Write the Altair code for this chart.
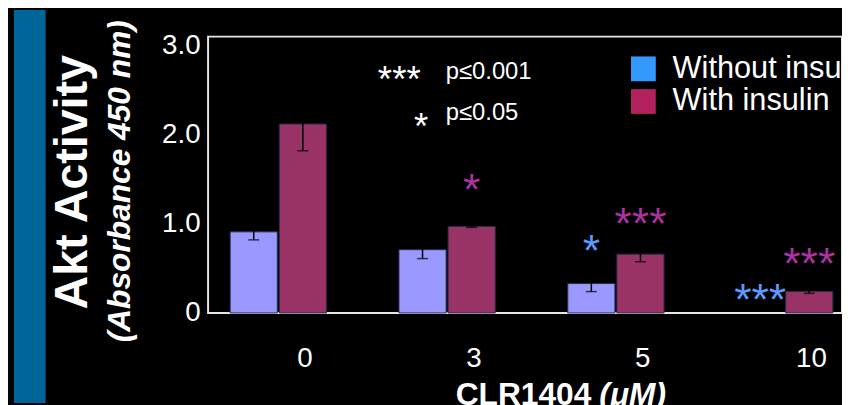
import altair as alt
import pandas as pd

# ---- data ----
doses = ["0", "3", "5", "10"]
series = ["Without insulin", "With insulin"]
without_vals = [0.91, 0.71, 0.33, 0.0]
without_err = [0.09, 0.10, 0.09, 0.0]
with_vals = [2.12, 0.97, 0.66, 0.24]
with_err = [0.30, 0.01, 0.085, 0.02]

bar_colors = ["#9999FF", "#993366"]
legend_colors = ["#3399FF", "#B3215E"]
star_colors = {"Without insulin": "#5A9BFF", "With insulin": "#A9339F"}

star_dose = ["3", "5", "5", "10", "10"]
star_series = ["With insulin", "With insulin", "Without insulin", "With insulin", "Without insulin"]
star_text = ["*", "***", "*", "***", "***"]
star_y = [1.46, 1.07, 0.77, 0.62, 0.22]

key_stars = ["***", "*"]
key_text = ["p≤0.001", "p≤0.05"]

y_title = "Akt Activity"
y_subtitle = "(Absorbance 450 nm)"
x_title = "CLR1404"
x_unit = "(μM)"

FONT = "Liberation Sans"

rows = []
for i, d in enumerate(doses):
    rows.append({"dose": d, "series": series[0], "value": without_vals[i], "err": without_err[i]})
    rows.append({"dose": d, "series": series[1], "value": with_vals[i], "err": with_err[i]})
df = pd.DataFrame(rows)
df["lo"] = df["value"] - df["err"]
df["hi"] = df["value"] + df["err"]
err_df = df[df["err"] > 0]
bar_df = df[df["value"] > 0]

stars_df = pd.DataFrame({
    "dose": star_dose,
    "series": star_series,
    "label": star_text,
    "y": star_y,
})
stars_df["color"] = [star_colors[s] for s in star_series]

x_enc = alt.X(
    "dose:N", sort=doses,
    scale=alt.Scale(paddingInner=0.4297, paddingOuter=0.0925, align=0.707),
    axis=alt.Axis(title=None, labelAngle=0, labelFontSize=28, labelColor="white",
                  labelFont=FONT, labelOffset=27, labelPadding=32, ticks=False,
                  tickSize=0, domain=False, grid=False),
)
xoff_enc = alt.XOffset("series:N", sort=series,
                       scale=alt.Scale(paddingInner=0.04, paddingOuter=0))
y_scale = alt.Scale(domain=[0, 3.1], nice=False)

bars = alt.Chart(bar_df).mark_bar(stroke="#2a2a50", strokeWidth=1).encode(
    x=x_enc,
    xOffset=xoff_enc,
    y=alt.Y("value:Q", scale=y_scale,
            axis=alt.Axis(title=None, values=[0, 1, 2, 3], labelFontSize=28,
                          labelColor="white", labelFont=FONT, labelPadding=8,
                          ticks=False, tickSize=0, domain=False, grid=False,
                          labelExpr="datum.value == 0 ? '0' : format(datum.value, '.1f')")),
    color=alt.Color("series:N", sort=series,
                    scale=alt.Scale(domain=series, range=bar_colors), legend=None),
)

legend_layer = alt.Chart(df).mark_square(opacity=0).encode(
    x=x_enc,
    xOffset=xoff_enc,
    y=alt.Y("value:Q", scale=y_scale),
    color=alt.Color("series:N", sort=series,
                    scale=alt.Scale(domain=series, range=legend_colors),
                    legend=alt.Legend(orient="none", legendX=424, legendY=17, title=None,
                                      symbolType="square", symbolSize=625,
                                      symbolStrokeWidth=0, symbolOpacity=1,
                                      labelFontSize=31, labelColor="white",
                                      labelFont=FONT, labelOffset=14, labelLimit=500,
                                      rowPadding=1, padding=0)),
)

err_rule = alt.Chart(err_df).mark_rule(color="black", strokeWidth=1.5).encode(
    x=x_enc, xOffset=xoff_enc,
    y=alt.Y("lo:Q", scale=y_scale), y2="hi:Q",
)
cap_lo = alt.Chart(err_df).mark_tick(color="black", thickness=1.5, size=11).encode(
    x=x_enc, xOffset=xoff_enc, y=alt.Y("lo:Q", scale=y_scale),
)
cap_hi = alt.Chart(err_df).mark_tick(color="black", thickness=1.5, size=11).encode(
    x=x_enc, xOffset=xoff_enc, y=alt.Y("hi:Q", scale=y_scale),
)

stars = alt.Chart(stars_df).mark_text(font=FONT, fontSize=45, dy=22,
                                      baseline="alphabetic").encode(
    x=x_enc, xOffset=xoff_enc,
    y=alt.Y("y:Q", scale=y_scale),
    text="label:N",
    color=alt.Color("color:N", scale=None),
)

one = pd.DataFrame({"k": [0]})


def txt(s, x, y, size, align="left", weight="normal", style="normal", angle=0, color="white"):
    params = dict(text=s, font=FONT, fontSize=size, align=align, baseline="alphabetic",
                  fontWeight=weight, fontStyle=style, color=color)
    if angle:
        params["angle"] = angle
    return alt.Chart(one).mark_text(**params).encode(x=alt.value(x), y=alt.value(y))


stripe = alt.Chart(one).mark_rect(color="#006699").encode(
    x=alt.value(-196), x2=alt.value(-164), y=alt.value(-27), y2=alt.value(370)
)

annos = [
    txt(key_stars[0], 193, 55.5, 37, align="center"),
    txt(key_stars[1], 215, 103.5, 37, align="center"),
    txt(key_text[0], 240, 42.5, 24),
    txt(key_text[1], 240, 84, 24),
    txt(y_title, -122, 147, 47, align="center", weight="bold", angle=270),
    txt(y_subtitle, -79, 146, 32, align="center", weight="bold", style="italic", angle=270),
    txt(x_title, 250, 371.5, 32, weight="bold"),
    txt(x_unit, 395, 371.5, 32, weight="bold", style="italic"),
]

chart = alt.layer(stripe, bars, err_rule, cap_lo, cap_hi, stars, legend_layer, *annos).resolve_scale(
    color="independent"
).properties(
    width=640, height=279,
    autosize=alt.AutoSizeParams(type="none"),
    padding={"left": 202, "top": 27, "right": 0, "bottom": 91},
    background="black",
).configure_view(stroke="#e6e6e6", strokeWidth=2)

chart.save("out.html", embed_options={"renderer": "svg", "actions": False})
